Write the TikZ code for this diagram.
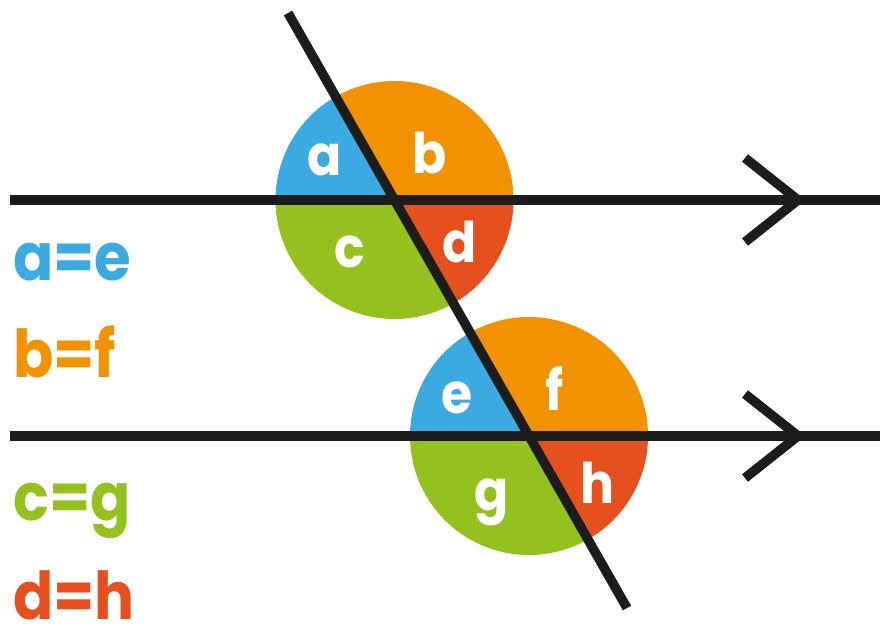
\documentclass[tikz,border=0pt]{standalone}
\usepackage{fontspec}
\setmainfont{Poppins}[FakeStretch=0.9]
\usetikzlibrary{positioning}
\definecolor{angblue}{RGB}{58,170,225}
\definecolor{angorange}{RGB}{242,146,0}
\definecolor{angred}{RGB}{230,80,30}
\definecolor{anggreen}{RGB}{149,193,31}
\definecolor{inkblack}{RGB}{28,28,28}

\begin{document}
\begin{tikzpicture}[
		% pixel-like units, y pointing down
		x=1pt, y=1pt, yscale=-1,
		line cap=butt, line join=miter,
		parline/.style={draw=inkblack, line width=9.5pt},
		lettertext/.style={text=white, anchor=base, inner sep=0pt,
				font=\fontsize{56}{58}\selectfont\bfseries},
		ruletext/.style={anchor=base west, inner sep=0pt,
				font=\fontsize{66}{68}\selectfont\bfseries}
	]

	\useasboundingbox (0,0) rectangle (880,627);

	% Parameters
	\def\R{119}
	\def\T{60.33}

	%-------------------
	% Coloured angle discs
	%-------------------
	\newcommand{\anglediscs}[1]{% centre
		\fill[angblue]   (#1) -- ++(180:\R) arc[start angle=180, end angle=180+\T, radius=\R] -- cycle;
		\fill[angorange] (#1) -- ++(180+\T:\R) arc[start angle=180+\T, end angle=360, radius=\R] -- cycle;
		\fill[anggreen]  (#1) -- ++(\T:\R) arc[start angle=\T, end angle=180, radius=\R] -- cycle;
		\fill[angred]    (#1) -- ++(0:\R) arc[start angle=0, end angle=\T, radius=\R] -- cycle;
	}

	\coordinate (o1) at (394.5,200);
	\coordinate (o2) at (529,436);

	\anglediscs{o1}
	\anglediscs{o2}

	%-------------------
	% Lines
	%-------------------
	\coordinate (top w) at (10,200);
	\coordinate (top e) at (880,200);
	\coordinate (bot w) at (10,436);
	\coordinate (bot e) at (880,436);
	\coordinate (cut n) at (288,13);
	\coordinate (cut s) at (627,608);

	\draw[parline] (top w) -- (top e);
	\draw[parline] (bot w) -- (bot e);
	\draw[parline] (cut n) -- (cut s);

	% parallel marks
	\foreach \y/\n in {200/top, 436/bot}{
			\coordinate (\n tip) at (798,\y);
			\coordinate (\n up) at (745,\y-42);
			\coordinate (\n dn) at (745,\y+42);
			\draw[parline] (\n up) -- (\n tip) -- (\n dn);
		}

	%-------------------
	% Angle letters
	%-------------------
	\node[lettertext] (la) at (325,175) {a};
	\node[lettertext] (lb) at (430,173) {b};
	\node[lettertext] (lc) at (350,267) {c};
	\node[lettertext] (ld) at (460,262) {d};
	\node[lettertext] (le) at (457,413) {e};
	\node[lettertext] (lf) at (555,410) {f};
	\node[lettertext] (lg) at (492,510) {g};
	\node[lettertext] (lh) at (597,503) {h};

	%-------------------
	% Equal pairs
	%-------------------
	\node[ruletext, text=angblue]   (ae) at (13,280) {a=e};
	\node[ruletext, text=angorange] (bf) at (13,377) {b=f};
	\node[ruletext, text=anggreen]  (cg) at (13,520) {c=g};
	\node[ruletext, text=angred]    (dh) at (13,619) {d=h};

\end{tikzpicture}
\end{document}
